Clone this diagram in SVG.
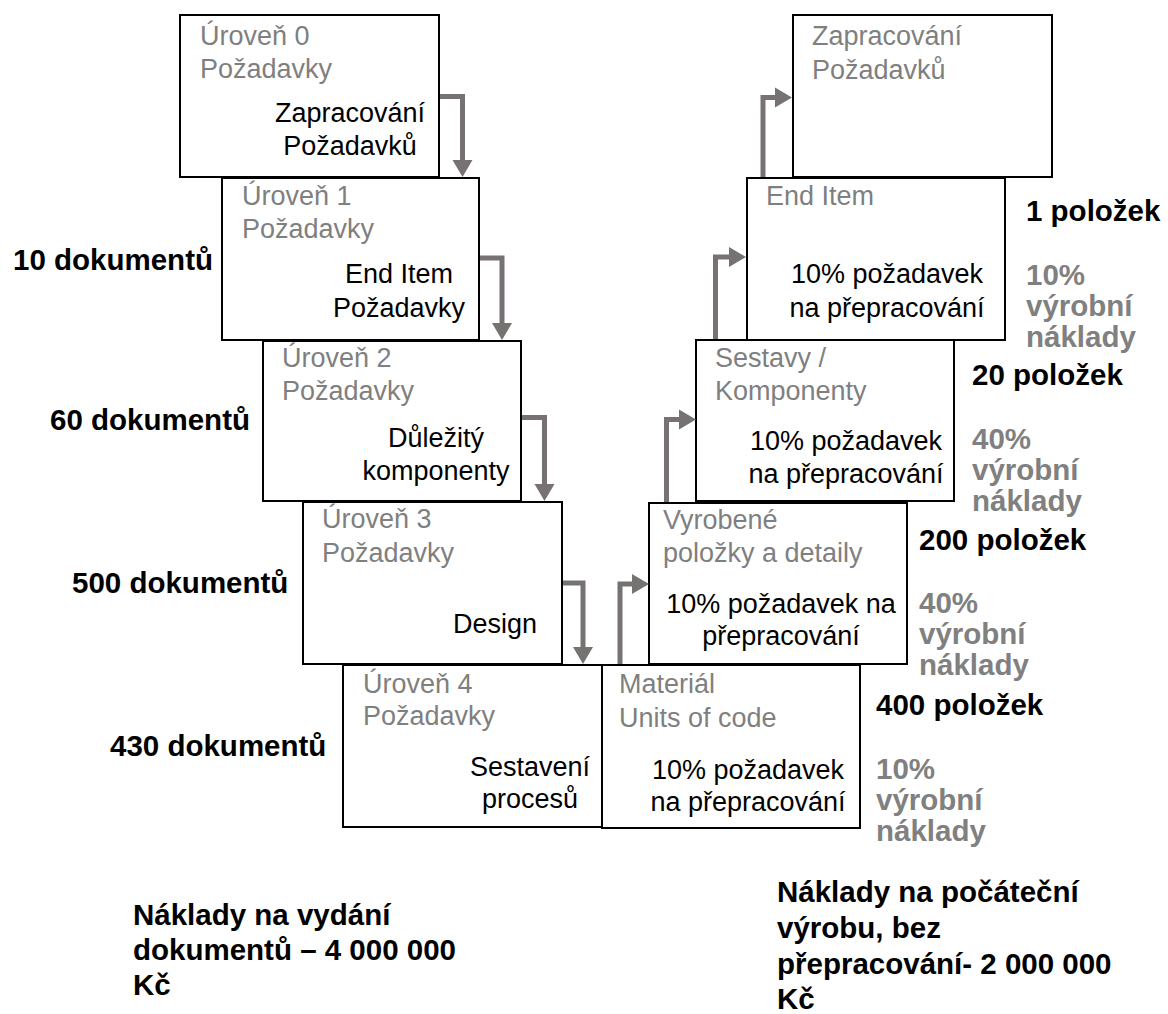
<svg xmlns="http://www.w3.org/2000/svg" width="1168" height="1014" viewBox="0 0 1168 1014">
  <defs>
    <style>
      .box { fill: #ffffff; stroke: #000000; stroke-width: 2; }
      .sub { font-family: "Liberation Sans", Arial, sans-serif; font-size: 27px; fill: #7f7f7f; }
      .main { font-family: "Liberation Sans", Arial, sans-serif; font-size: 27px; fill: #000000; text-anchor: middle; }
      .cnt { font-family: "Liberation Sans", Arial, sans-serif; font-size: 29.5px; font-weight: bold; fill: #000000; }
      .pct { font-family: "Liberation Sans", Arial, sans-serif; font-size: 29.5px; font-weight: bold; fill: #808080; }
      .flow { fill: none; stroke: #777272; stroke-width: 5; stroke-linejoin: miter; marker-end: url(#head); }
    </style>
    <marker id="head" markerUnits="userSpaceOnUse" markerWidth="17" markerHeight="20" viewBox="0 -10 17 20" refX="0" refY="0" orient="auto" overflow="visible">
      <path d="M0,-10 L17,0 L0,10 Z" fill="#777272"/>
    </marker>
  </defs>
  <rect width="1168" height="1014" fill="#ffffff"/>

  <!-- requirement levels (left leg) -->
  <g id="level0">
    <rect class="box" x="180" y="15" width="259" height="162"/>
    <text class="sub" x="200" y="45">Úroveň 0</text>
    <text class="sub" x="200" y="78">Požadavky</text>
    <text class="main" x="350" y="122">Zapracování</text>
    <text class="main" x="350" y="155">Požadavků</text>
  </g>
  <g id="level1">
    <rect class="box" x="222" y="178" width="257" height="162"/>
    <text class="sub" x="242" y="205">Úroveň 1</text>
    <text class="sub" x="242" y="238">Požadavky</text>
    <text class="main" x="399" y="283">End Item</text>
    <text class="main" x="399" y="317">Požadavky</text>
  </g>
  <g id="level2">
    <rect class="box" x="263" y="341" width="258" height="160"/>
    <text class="sub" x="282" y="367">Úroveň 2</text>
    <text class="sub" x="282" y="400">Požadavky</text>
    <text class="main" x="436" y="447">Důležitý</text>
    <text class="main" x="436" y="480">komponenty</text>
  </g>
  <g id="level3">
    <rect class="box" x="303" y="502" width="259" height="162"/>
    <text class="sub" x="322" y="528">Úroveň 3</text>
    <text class="sub" x="322" y="562">Požadavky</text>
    <text class="main" x="495" y="633">Design</text>
  </g>
  <g id="level4">
    <rect class="box" x="343" y="665" width="259" height="162"/>
    <text class="sub" x="363" y="693">Úroveň 4</text>
    <text class="sub" x="363" y="725">Požadavky</text>
    <text class="main" x="530" y="776">Sestavení</text>
    <text class="main" x="530" y="808">procesů</text>
  </g>

  <!-- production levels (right leg) -->
  <g id="material">
    <rect class="box" x="602" y="665" width="258" height="163"/>
    <text class="sub" x="619" y="693">Materiál</text>
    <text class="sub" x="619" y="727">Units of code</text>
    <text class="main" x="748" y="779">10% požadavek</text>
    <text class="main" x="748" y="811">na přepracování</text>
  </g>
  <g id="parts">
    <rect class="box" x="649" y="503" width="258" height="161"/>
    <text class="sub" x="663" y="529">Vyrobené</text>
    <text class="sub" x="663" y="562">položky a detaily</text>
    <text class="main" x="781" y="613">10% požadavek na</text>
    <text class="main" x="781" y="645">přepracování</text>
  </g>
  <g id="assemblies">
    <rect class="box" x="696" y="340" width="258" height="161"/>
    <text class="sub" x="715" y="367">Sestavy /</text>
    <text class="sub" x="715" y="400">Komponenty</text>
    <text class="main" x="846" y="450">10% požadavek</text>
    <text class="main" x="846" y="483">na přepracování</text>
  </g>
  <g id="end-item">
    <rect class="box" x="747" y="178" width="258" height="162"/>
    <text class="sub" x="766" y="205">End Item</text>
    <text class="main" x="887" y="283">10% požadavek</text>
    <text class="main" x="887" y="317">na přepracování</text>
  </g>
  <g id="incorporation">
    <rect class="box" x="793" y="15" width="259" height="162"/>
    <text class="sub" x="812" y="45">Zapracování</text>
    <text class="sub" x="812" y="79">Požadavků</text>
  </g>

  <!-- connectors -->
  <g id="connectors">
    <path class="flow" d="M440,96.5 H462.5 V160"/>
    <path class="flow" d="M480,258 H502 V323"/>
    <path class="flow" d="M522,417.5 H544.5 V484"/>
    <path class="flow" d="M563,583 H583 V647"/>
    <path class="flow" d="M620,664 V584 H632"/>
    <path class="flow" d="M666.5,502 V419.5 H679"/>
    <path class="flow" d="M715.5,339 V257 H729"/>
    <path class="flow" d="M763,177 V97.5 H775"/>
  </g>

  <!-- document counts -->
  <g id="doc-counts">
    <text class="cnt" x="13" y="270">10 dokumentů</text>
    <text class="cnt" x="50" y="430">60 dokumentů</text>
    <text class="cnt" x="72" y="593">500 dokumentů</text>
    <text class="cnt" x="110" y="756">430 dokumentů</text>
  </g>

  <!-- item counts and cost shares -->
  <g id="item-counts">
    <text class="cnt" x="1026" y="221">1 položek</text>
    <text class="pct" x="1026" y="285">10%</text>
    <text class="pct" x="1026" y="316">výrobní</text>
    <text class="pct" x="1026" y="347">náklady</text>

    <text class="cnt" x="972" y="385">20 položek</text>
    <text class="pct" x="972" y="449">40%</text>
    <text class="pct" x="972" y="480">výrobní</text>
    <text class="pct" x="972" y="511">náklady</text>

    <text class="cnt" x="919" y="550">200 položek</text>
    <text class="pct" x="919" y="613">40%</text>
    <text class="pct" x="919" y="644">výrobní</text>
    <text class="pct" x="919" y="675">náklady</text>

    <text class="cnt" x="876" y="715">400 položek</text>
    <text class="pct" x="876" y="779">10%</text>
    <text class="pct" x="876" y="810">výrobní</text>
    <text class="pct" x="876" y="841">náklady</text>
  </g>

  <!-- cost totals -->
  <g id="cost-docs">
    <text class="cnt" x="133" y="925">Náklady na vydání</text>
    <text class="cnt" x="133" y="960">dokumentů – 4 000 000</text>
    <text class="cnt" x="133" y="995">Kč</text>
  </g>
  <g id="cost-production">
    <text class="cnt" x="777" y="902">Náklady na počáteční</text>
    <text class="cnt" x="777" y="938">výrobu, bez</text>
    <text class="cnt" x="777" y="974">přepracování- 2 000 000</text>
    <text class="cnt" x="777" y="1009">Kč</text>
  </g>
</svg>
